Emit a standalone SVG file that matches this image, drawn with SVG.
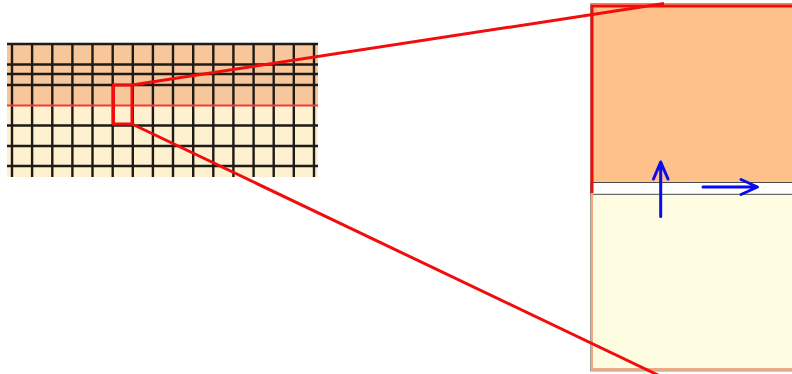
<svg xmlns="http://www.w3.org/2000/svg" width="792" height="374" viewBox="0 0 792 374">
  <style>
    .grid { stroke: #1e1a16; stroke-width: 2.4; }
    .zoom { stroke: #f20d0d; stroke-width: 3; fill: none; }
    .vec { stroke: #0a0aef; stroke-width: 3; fill: none; stroke-linecap: round; stroke-linejoin: round; }
  </style>

  <!-- Mesh overview: two-layer domain with cell grid -->
  <g id="mesh">
    <rect x="7" y="43" width="311" height="62.5" fill="#f7c79b"/>
    <rect x="7" y="105.5" width="311" height="71.5" fill="#fef1d0"/>
    <g class="grid">
      <line x1="7" y1="44" x2="318" y2="44"/>
      <line x1="7" y1="64.5" x2="318" y2="64.5"/>
      <line x1="7" y1="74" x2="318" y2="74"/>
      <line x1="7" y1="85" x2="318" y2="85"/>
      <line x1="7" y1="125.5" x2="318" y2="125.5"/>
      <line x1="7" y1="146" x2="318" y2="146"/>
      <line x1="7" y1="166" x2="318" y2="166"/>
      <line x1="12" y1="43" x2="12" y2="177"/>
      <line x1="32.1" y1="43" x2="32.1" y2="177"/>
      <line x1="52.3" y1="43" x2="52.3" y2="177"/>
      <line x1="72.4" y1="43" x2="72.4" y2="177"/>
      <line x1="92.5" y1="43" x2="92.5" y2="177"/>
      <line x1="112.7" y1="43" x2="112.7" y2="177"/>
      <line x1="132.8" y1="43" x2="132.8" y2="177"/>
      <line x1="152.9" y1="43" x2="152.9" y2="177"/>
      <line x1="173" y1="43" x2="173" y2="177"/>
      <line x1="193.2" y1="43" x2="193.2" y2="177"/>
      <line x1="213.3" y1="43" x2="213.3" y2="177"/>
      <line x1="233.4" y1="43" x2="233.4" y2="177"/>
      <line x1="253.6" y1="43" x2="253.6" y2="177"/>
      <line x1="273.7" y1="43" x2="273.7" y2="177"/>
      <line x1="293.8" y1="43" x2="293.8" y2="177"/>
      <line x1="314" y1="43" x2="314" y2="177"/>
    </g>
    <!-- layer interface -->
    <line x1="7" y1="105.5" x2="318" y2="105.5" stroke="#f23a3a" stroke-width="1.8"/>
    <!-- selected cell -->
    <rect class="zoom" x="113.5" y="85" width="18.5" height="39"/>
  </g>

  <!-- Magnified cell at the interface -->
  <g id="detail">
    <rect x="590.5" y="3.5" width="210" height="367.5" fill="#fdc189" stroke="#a39d93" stroke-width="1"/>
    <rect x="591" y="194" width="210" height="175" fill="#fffde1"/>
    <rect x="591" y="182.5" width="210" height="11.8" fill="#ffffff" stroke="#4a4a4a" stroke-width="1"/>
    <polyline points="592,193 592,369 800,369" fill="none" stroke="#f5a785" stroke-width="2"/>
    <polyline class="zoom" points="800,6 592,6 592,193"/>
    <g id="flux-arrows">
      <path class="vec" d="M660.7,216.5 V162 M653.5,179 L660.7,162 L668,179"/>
      <path class="vec" d="M703,187 H757.5 M741,179.5 L757.5,187 L741,194.5"/>
    </g>
  </g>

  <!-- Zoom leader lines -->
  <g id="connectors">
    <line class="zoom" x1="132" y1="85" x2="664" y2="3.5"/>
    <line class="zoom" x1="132" y1="124" x2="658" y2="375"/>
  </g>
</svg>
